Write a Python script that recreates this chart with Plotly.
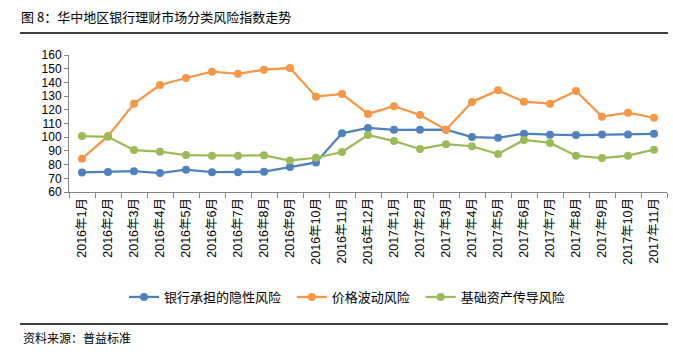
import plotly.graph_objects as go

months = ["2016年1月","2016年2月","2016年3月","2016年4月","2016年5月","2016年6月",
          "2016年7月","2016年8月","2016年9月","2016年10月","2016年11月","2016年12月",
          "2017年1月","2017年2月","2017年3月","2017年4月","2017年5月","2017年6月",
          "2017年7月","2017年8月","2017年9月","2017年10月","2017年11月"]
bank_risk = [74.3, 74.6, 75.2, 73.8, 76.3, 74.5, 74.5, 74.8, 78.2, 81.6, 102.8, 106.8,
             105.4, 105.5, 105.5, 100.1, 99.6, 102.6, 101.8, 101.6, 102.0, 102.0, 102.5]
price_risk = [84.3, 100.8, 124.5, 138.1, 143.2, 147.8, 146.3, 149.3, 150.5, 129.6, 131.6, 117.0,
              122.6, 116.2, 105.5, 125.7, 134.2, 125.9, 124.5, 133.7, 115.0, 117.9, 114.2]
base_risk = [100.8, 100.3, 90.6, 89.4, 87.0, 86.5, 86.5, 86.8, 83.0, 85.0, 89.2, 101.6,
             97.2, 91.4, 94.9, 93.4, 87.7, 98.0, 95.8, 86.5, 84.8, 86.5, 90.9]
names = ["银行承担的隐性风险", "价格波动风险", "基础资产传导风险"]
colors = ["#4F81BD", "#F79646", "#9BBB59"]

FONT = "Arial, 'Liberation Sans', 'Noto Sans CJK SC', sans-serif"
CJK = "'Noto Sans CJK SC', 'Microsoft YaHei', sans-serif"

fig = go.Figure()
for vals, nm, c in zip([bank_risk, price_risk, base_risk], names, colors):
    fig.add_trace(go.Scatter(x=months, y=vals, name=nm + "\u00a0\u00a0", mode="lines+markers",
                             line=dict(color=c, width=2.25),
                             marker=dict(color=c, size=8, symbol="circle")))

L, R, T, B = 69, 6, 55, 160
pw = 673 - L - R
ph = 352 - T - B

def px_x(p):
    return (p - L) / pw

def px_y(p):
    return (352 - B - p) / ph

fig.update_layout(
    width=673, height=352,
    margin=dict(l=L, r=R, t=T, b=B),
    paper_bgcolor="white", plot_bgcolor="white",
    font=dict(family=FONT, size=12, color="#000000"),
    title=dict(text="图 8：华中地区银行理财市场分类风险指数走势", xref="container", yref="container",
               x=21/673, y=1 - 17/352, xanchor="left", yanchor="middle",
               font=dict(family=CJK, size=13, color="#000000")),
    showlegend=True,
    legend=dict(orientation="h", x=px_x(124), y=px_y(297), xanchor="left", yanchor="middle",
                font=dict(family=CJK, size=13, color="#000000"), itemwidth=30,
                bgcolor="rgba(0,0,0,0)"),
    xaxis=dict(type="category", range=[-0.5, 22.5], showgrid=False, zeroline=False,
               showline=True, linecolor="#868686", linewidth=1,
               ticks="outside", tickson="boundaries", ticklen=5, tickcolor="#868686",
               tickangle=-90, tickfont=dict(family=FONT, size=12.5, color="#000000")),
    yaxis=dict(range=[60, 160], dtick=10, tick0=60, showgrid=False, zeroline=False,
               showline=True, linecolor="#868686", linewidth=1,
               ticks="outside", ticklen=4, tickcolor="#868686",
               tickfont=dict(family=FONT, size=12, color="#000000")),
)

fig.add_shape(type="line", xref="paper", yref="paper", x0=px_x(20), x1=px_x(668),
              y0=px_y(33), y1=px_y(33), line=dict(color="black", width=1.5))
fig.add_shape(type="line", xref="paper", yref="paper", x0=px_x(20), x1=px_x(668),
              y0=px_y(324), y1=px_y(324), line=dict(color="black", width=1.5))
fig.add_annotation(text="资料来源：普益标准", xref="paper", yref="paper",
                   x=px_x(21), y=px_y(337), xanchor="left", yanchor="middle",
                   showarrow=False, font=dict(family=CJK, size=12, color="#000000"))

fig.write_html("out.html")
